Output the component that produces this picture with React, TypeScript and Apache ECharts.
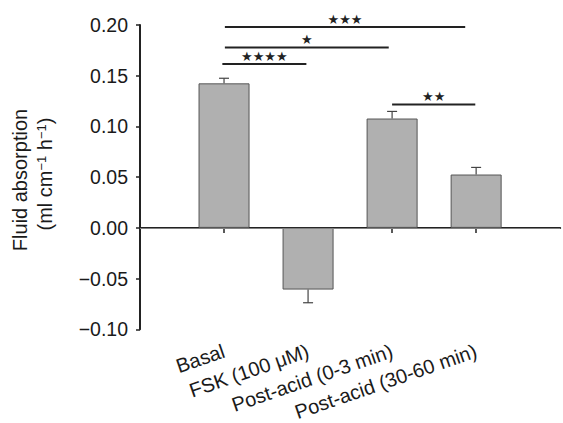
import React, { useEffect, useRef } from "react";
import * as echarts from "echarts";

const categories = ["Basal", "FSK (100 μM)", "Post-acid (0-3 min)", "Post-acid (30-60 min)"];
const means = [0.1425, -0.0608, 0.1078, 0.0526];
const errors = [0.005, 0.013, 0.007, 0.007];

const yTicks = { min: -0.1, max: 0.2, interval: 0.05 };

const bracketLabels = ["★★★★", "★", "★★★", "★★"];
const bracketStart = [0.98, 1.01, 1.01, 3.0];
const bracketEnd = [1.98, 2.96, 3.87, 3.99];
const bracketY = [0.1615, 0.1778, 0.198, 0.1217];

const FONT = "Liberation Sans, Arial, Helvetica, sans-serif";

export default function App() {
  const ref = useRef<HTMLDivElement>(null);
  useEffect(() => {
    if (!ref.current) return;
    const chart = echarts.init(ref.current, undefined, { renderer: "svg" });
    const axisData = ["", ...categories, ""];
    const barData = [null, ...means, null];
    const errData = means.map((m, i) => [i + 1, m, errors[i]]);
    const brData = bracketLabels.map((_, i) => [bracketStart[i], bracketEnd[i], bracketY[i]]);

    chart.setOption({
      animation: false,
      grid: { left: 140, right: -2, top: 25, bottom: 91, containLabel: false },
      xAxis: [
        {
          type: "category",
          data: axisData,
          boundaryGap: false,
          axisLine: { show: true, lineStyle: { color: "#222", width: 2 } },
          axisTick: {
            show: true,
            length: 5,
            interval: (i: number) => i >= 1 && i <= 4,
            lineStyle: { color: "#222", width: 1.5 },
          },
          axisLabel: {
            interval: 0,
            rotate: 19,
            margin: 21,
            fontSize: 20,
            fontFamily: FONT,
            color: "#1a1a1a",
          },
          splitLine: { show: false },
        },
        { type: "value", min: 0, max: 5, show: false },
      ],
      yAxis: {
        type: "value",
        min: yTicks.min,
        max: yTicks.max,
        interval: yTicks.interval,
        axisLine: { show: true, lineStyle: { color: "#222", width: 2 } },
        axisTick: { show: true, length: 4, lineStyle: { color: "#222", width: 1.5 } },
        axisLabel: {
          margin: 12,
          fontSize: 19.5,
          fontFamily: FONT,
          color: "#1a1a1a",
          formatter: (v: number) => v.toFixed(2).replace("-", "\u2212"),
        },
        splitLine: { show: false },
      },
      graphic: [
        {
          type: "text",
          x: 20,
          y: 180,
          rotation: Math.PI / 2,
          style: {
            text: "Fluid absorption",
            fontSize: 20,
            fontFamily: FONT,
            fill: "#1a1a1a",
            align: "center",
            verticalAlign: "middle",
          },
        },
        {
          type: "text",
          x: 45,
          y: 174,
          rotation: Math.PI / 2,
          style: {
            text: "(ml cm{sup|−1} h{sup|−1})",
            fontSize: 20,
            fontFamily: FONT,
            fill: "#1a1a1a",
            align: "center",
            verticalAlign: "middle",
            rich: {
              sup: { fontSize: 13, fontFamily: FONT, fill: "#1a1a1a", verticalAlign: "top" },
            },
          },
        },
      ],
      series: [
        {
          type: "bar",
          xAxisIndex: 0,
          data: barData,
          barWidth: 51,
          itemStyle: { color: "#b0b0b0", borderColor: "#555", borderWidth: 1 },
          markLine: {
            silent: true,
            symbol: ["none", "none"],
            label: { show: false },
            lineStyle: { color: "#808080", width: 1, type: "solid" },
            data: [{ yAxis: 0 }],
          },
          z: 2,
        },
        {
          type: "custom",
          xAxisIndex: 1,
          data: errData,
          z: 3,
          renderItem: (params: any, api: any) => {
            const x = api.value(0);
            const m = api.value(1);
            const e = api.value(2);
            const sgn = m >= 0 ? 1 : -1;
            const p0 = api.coord([x, m]);
            const p1 = api.coord([x, m + sgn * e]);
            const st = { stroke: "#444", lineWidth: 1.2 };
            return {
              type: "group",
              children: [
                { type: "line", shape: { x1: p0[0], y1: p0[1], x2: p1[0], y2: p1[1] }, style: st },
                { type: "line", shape: { x1: p1[0] - 5, y1: p1[1], x2: p1[0] + 5, y2: p1[1] }, style: st },
              ],
            };
          },
        },
        {
          type: "custom",
          xAxisIndex: 1,
          data: brData,
          z: 4,
          renderItem: (params: any, api: any) => {
            const a = api.coord([api.value(0), api.value(2)]);
            const b = api.coord([api.value(1), api.value(2)]);
            return {
              type: "group",
              children: [
                {
                  type: "line",
                  shape: { x1: a[0], y1: a[1], x2: b[0], y2: b[1] },
                  style: { stroke: "#222", lineWidth: 2 },
                },
                {
                  type: "text",
                  x: (a[0] + b[0]) / 2,
                  y: a[1] - 8,
                  style: {
                    text: bracketLabels[params.dataIndex],
                    fontSize: 13,
                    fontFamily: "DejaVu Sans",
                    fill: "#222",
                    align: "center",
                    verticalAlign: "middle",
                  },
                },
              ],
            };
          },
        },
      ],
    });
    return () => chart.dispose();
  }, []);
  return (
    <div
      ref={ref}
      style={{ position: "fixed", left: 0, top: 0, width: 563, height: 423, background: "#fff" }}
    />
  );
}
